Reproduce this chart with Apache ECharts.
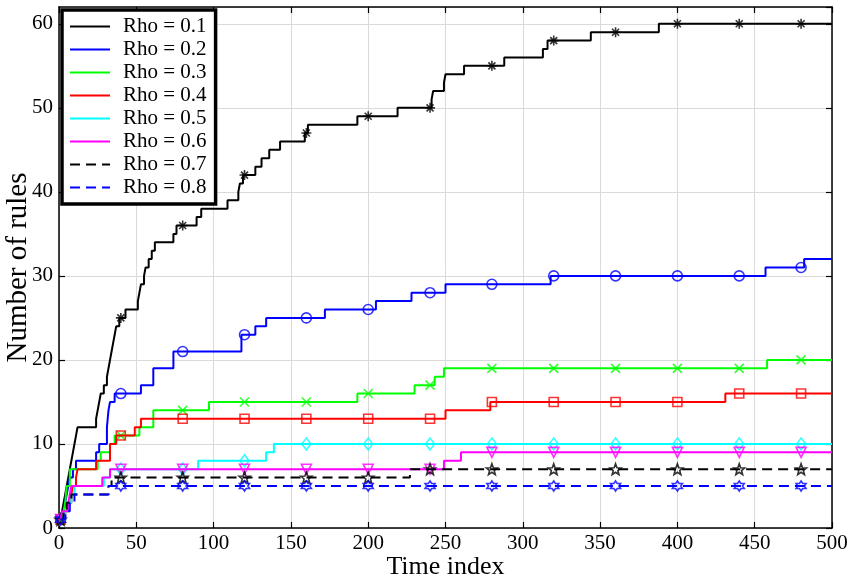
<!DOCTYPE html>
<html>
<head>
<meta charset="utf-8">
<script src="https://cdn.jsdelivr.net/npm/echarts@6/dist/echarts.min.js"></script>
<style>
html, body { margin: 0; padding: 0; background: #fff; }
#chart { width: 850px; height: 582px; }
</style>
</head>
<body>
<div id="chart"></div>
<script>
// step points [time index, number of rules]; value holds until next point
const seriesNames = ['Rho = 0.1', 'Rho = 0.2', 'Rho = 0.3', 'Rho = 0.4',
                     'Rho = 0.5', 'Rho = 0.6', 'Rho = 0.7', 'Rho = 0.8'];

const rho01 = [[1,1],[2,2],[3,3],[4,4],[5,5],[6,6],[7,7],[8,8],[9,9],[10,10],[11,11],[12,12],
  [24,13],[25,14],[26,15],[27,16],[29,17],[31,18],[32,19],[33,20],[34,21],[35,22],[36,23],[37,24],[39,25],
  [43,26],[51,27],[52,28],[53,29],[55,30],[56,31],[58,32],[60,33],[62,34],[74,35],[76,36],[89,37],[92,38],
  [109,39],[116,40],[117,41],[119,42],[127,43],[131,44],[136,45],[143,46],[159,47],[161,48],[193,49],
  [219,50],[241,51],[242,52],[249,53],[250,54],[262,55],[288,56],[313,57],[316,58],[344,59],[388,60],[500,60]];
const rho02 = [[1,1],[3,2],[4,3],[5,4],[6,5],[7,6],[9,7],[11,8],[24,9],[26,10],[31,12],[32,14],[33,15],
  [36,16],[53,17],[61,19],[74,21],[118,23],[127,24],[134,25],[172,26],[205,27],[228,28],[250,29],
  [318,30],[457,31],[482,32],[500,32]];
const rho03 = [[1,1],[3,2],[4,3],[5,5],[7,7],[25,8],[27,9],[33,10],[36,11],[52,12],[61,14],[97,15],
  [193,16],[230,17],[243,18],[249,19],[458,20],[500,20]];
const rho04 = [[1,1],[4,2],[6,3],[8,4],[9,5],[11,6],[12,7],[24,8],[33,10],[37,11],[49,12],[53,13],
  [250,14],[279,15],[431,16],[500,16]];
const rho05 = [[1,1],[4,2],[6,3],[8,4],[10,5],[29,6],[33,7],[90,8],[134,9],[139,10],[500,10]];
const rho06 = [[1,1],[2,2],[6,3],[7,4],[8,5],[28,6],[33,7],[249,8],[260,9],[500,9]];
const rho07 = [[1,1],[3,2],[5,3],[8,4],[32,5],[34,6],[227,7],[500,7]];
const rho08 = [[1,1],[4,2],[7,3],[10,4],[32,5],[500,5]];

const markerX = [1, 40, 80, 120, 160, 200, 240, 280, 320, 360, 400, 440, 480];
const xTicks = { min: 0, max: 500, interval: 50 };
const yTicks = { min: 0, max: 62, interval: 10 };

function starPath(n, rOut, rIn) {
  let d = '';
  for (let i = 0; i < 2 * n; i++) {
    const r = i % 2 === 0 ? rOut : rIn;
    const a = Math.PI * i / n - Math.PI / 2;
    d += (i === 0 ? 'M' : 'L') + (r * Math.cos(a)).toFixed(2) + ',' + (r * Math.sin(a)).toFixed(2);
  }
  return 'path://' + d + 'Z';
}

const styles = [
  { data: rho01, color: '#000000', dash: 'solid', symbol: 'path://M5,0L5,10M0,5L10,5M1.5,1.5L8.5,8.5M1.5,8.5L8.5,1.5', size: 10 },
  { data: rho02, color: '#0000ff', dash: 'solid', symbol: 'circle', size: 10 },
  { data: rho03, color: '#00ff00', dash: 'solid', symbol: 'path://M0,0L10,10M0,10L10,0', size: 9 },
  { data: rho04, color: '#ff0000', dash: 'solid', symbol: 'rect', size: 9 },
  { data: rho05, color: '#00ffff', dash: 'solid', symbol: 'diamond', size: [9, 12] },
  { data: rho06, color: '#ff00ff', dash: 'solid', symbol: 'triangle', size: 10, rotate: 180 },
  { data: rho07, color: '#000000', dash: [10, 6], symbol: starPath(5, 5, 2.1), size: 11 },
  { data: rho08, color: '#0000ff', dash: [10, 6], symbol: starPath(6, 5, 2.9), size: 10 }
];

function valueAt(steps, x) {
  let v = steps[0][1];
  for (const p of steps) { if (p[0] <= x) v = p[1]; }
  return v;
}

const series = [];
styles.forEach((s, i) => {
  series.push({
    name: seriesNames[i], type: 'line', step: 'end', data: s.data,
    symbol: 'none', color: s.color,
    lineStyle: { color: s.color, width: 2, type: s.dash }
  });
  series.push({
    type: 'scatter', data: markerX.map(x => [x, valueAt(s.data, x)]),
    symbol: s.symbol, symbolSize: s.size, symbolRotate: s.rotate || 0,
    itemStyle: { color: 'none', borderColor: s.color, borderWidth: 1.6 },
    silent: true
  });
});

const font = 'Liberation Serif';
const axisLine = { show: true, onZero: false, lineStyle: { color: '#000', width: 1.5 } };
const axisTick = { show: true, inside: true, length: 6, lineStyle: { color: '#000', width: 1.2 } };
const splitLine = { show: true, lineStyle: { color: '#dadada', width: 1 } };

const chart = echarts.init(document.getElementById('chart'));
chart.setOption({
  backgroundColor: '#fff',
  animation: false,
  grid: { left: 59, right: 18, top: 7, bottom: 54, containLabel: false, outerBoundsMode: 'none' },
  legend: {
    data: seriesNames, orient: 'vertical', left: 62, top: 10,
    itemWidth: 40, itemHeight: 14, itemGap: 0,
    itemStyle: { opacity: 0 },
    padding: [5, 9, 5, 7],
    backgroundColor: '#fff', borderColor: '#000', borderWidth: 3.5, borderRadius: 0,
    textStyle: { fontFamily: font, fontSize: 21, color: '#000', lineHeight: 23, padding: [0, 0, 0, 8] }
  },
  xAxis: [
    { type: 'value', ...xTicks, axisLine, axisTick, splitLine,
      axisLabel: { fontFamily: font, fontSize: 21, color: '#000', margin: 5 },
      name: 'Time index', nameLocation: 'middle', nameGap: 26, nameMoveOverlap: false,
      nameTextStyle: { fontFamily: font, fontSize: 26, color: '#000' } },
    { type: 'value', position: 'top', ...xTicks, axisLine, axisTick,
      splitLine: { show: false }, axisLabel: { show: false } }
  ],
  yAxis: [
    { type: 'value', ...yTicks, axisLine, axisTick, splitLine,
      axisLabel: { fontFamily: font, fontSize: 21, color: '#000', margin: 6, showMaxLabel: false },
      name: 'Number of rules', nameLocation: 'middle', nameGap: 26, nameMoveOverlap: false,
      nameTextStyle: { fontFamily: font, fontSize: 29, color: '#000' } },
    { type: 'value', position: 'right', ...yTicks, axisLine, axisTick,
      splitLine: { show: false }, axisLabel: { show: false } }
  ],
  series: series
});
</script>
</body>
</html>
